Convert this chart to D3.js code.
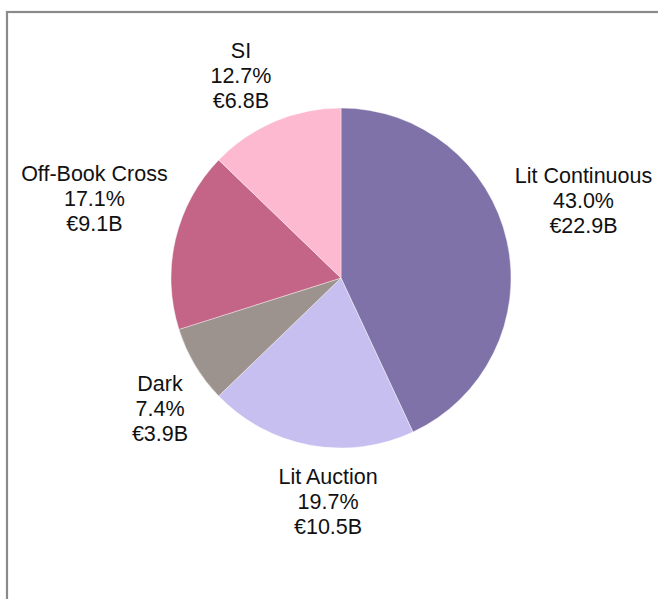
<!DOCTYPE html>
<html>
<head>
<meta charset="utf-8">
<script src="https://cdn.jsdelivr.net/npm/d3@7/dist/d3.min.js"></script>
<style>
  html, body { margin: 0; padding: 0; background: #fff; }
  svg { display: block; }
  text { font-family: "Liberation Sans", Arial, Helvetica, sans-serif; fill: #111; }
</style>
</head>
<body>
<svg id="chart" width="658" height="599"></svg>
<script>
// Execution venue breakdown, clockwise from 12 o'clock
const categories = ["Lit Continuous", "Lit Auction", "Dark", "Off-Book Cross", "SI"];
const shares     = [43.0, 19.7, 7.4, 17.1, 12.7];      // percent of total
const amounts    = [22.9, 10.5, 3.9, 9.1, 6.8];        // EUR billions
const colors     = ["#7f72a9", "#c6bff0", "#9d938e", "#c46587", "#fdb9cf"];

const W = 658, H = 599;
const cx = 341, cy = 278, radius = 170;
const fontSize = 21.5, lineGap = 25, capH = 15.4;

const svg = d3.select("#chart");

// outer frame
svg.append("rect")
  .attr("x", 7).attr("y", 12)
  .attr("width", W + 20).attr("height", H + 20)
  .attr("fill", "none")
  .attr("stroke", "#8a8a8a")
  .attr("stroke-width", 2.2);

const data = categories.map((c, i) => ({ name: c, share: shares[i], amount: amounts[i], color: colors[i] }));

const pie = d3.pie().value(d => d.amount).sort(null);
const arc = d3.arc().innerRadius(0).outerRadius(radius);
const arcs = pie(data);

const g = svg.append("g").attr("transform", `translate(${cx},${cy})`);

g.selectAll("path.slice")
  .data(arcs)
  .join("path")
  .attr("class", "slice")
  .attr("d", arc)
  .attr("fill", d => d.data.color)
  .attr("stroke", "#fff")
  .attr("stroke-width", 0.4);

// three-line outside labels: name, percent, amount
const labels = g.selectAll("g.label")
  .data(arcs)
  .join("g")
  .attr("class", "label");

labels.each(function(d) {
  const lg = d3.select(this);
  const lines = [d.data.name, d.data.share.toFixed(1) + "%", "\u20AC" + d.data.amount.toFixed(1) + "B"];
  const texts = lines.map((t, i) =>
    lg.append("text")
      .attr("text-anchor", "middle")
      .attr("font-size", fontSize)
      .attr("y", (i - 1) * lineGap)
      .text(t));
  const w = d3.max(texts, t => t.node().getComputedTextLength());
  const h = capH + 2 * lineGap;

  const mid = (d.startAngle + d.endAngle) / 2;
  const s = Math.sin(mid), c = Math.cos(mid);
  const anchorR = radius + 8;
  const ax = s * anchorR, ay = -c * anchorR;

  let bx, by;
  if (Math.abs(s) > 0.3) {
    bx = ax + Math.sign(s) * w / 2;
    by = ay - Math.sign(c) * (h / 2 + 6);
  } else {
    // near-vertical slices: centre the block closer to the axis
    bx = ax * 0.4;
    by = ay - Math.sign(c) * (h / 2 + 16);
  }
  // box centre -> baseline of the middle line
  lg.attr("transform", `translate(${bx},${by + capH / 2})`);
});
</script>
</body>
</html>
